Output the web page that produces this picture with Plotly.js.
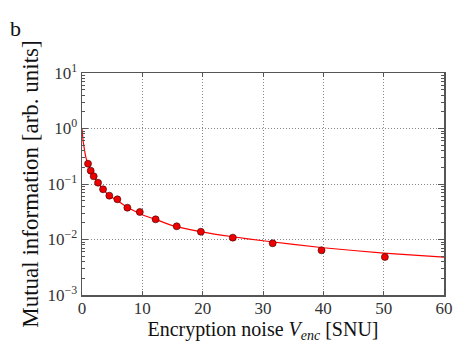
<!DOCTYPE html>
<html>
<head>
<meta charset="utf-8">
<script src="https://cdn.plot.ly/plotly-3.0.1.min.js"></script>
<style>
	body { margin: 0; padding: 0; background: #fff; }
	#chart { width: 463px; height: 349px; }
</style>
</head>
<body>
<div id="chart"></div>
<script>
// measured points
var noiseX = [1.0, 1.44, 1.94, 2.66, 3.49, 4.53, 5.86, 7.52, 9.58, 12.2, 15.7, 19.7, 25.0, 31.6, 39.7, 50.2];
var infoY = [0.232, 0.174, 0.138, 0.1055, 0.0803, 0.0616, 0.053, 0.0374, 0.0313, 0.0231, 0.0173, 0.0138, 0.0108, 0.00855, 0.00639, 0.00484];

// fitted curve
var fitX = [0, 0.1, 0.2, 0.33, 0.5, 0.72, 1.0, 1.5, 2, 2.7, 3.5, 4.5, 6, 7.5, 10, 12.2, 15, 20, 25, 30, 40, 50, 60];
var fitY = [1.0, 0.75, 0.58, 0.47, 0.36, 0.28, 0.23, 0.17, 0.133, 0.104, 0.08, 0.062, 0.049, 0.038, 0.028, 0.023, 0.0178, 0.0136, 0.0112, 0.0095, 0.0071, 0.0057, 0.0048];

var xTicks = [0, 10, 20, 30, 40, 50, 60];
var yTicks = [0.001, 0.01, 0.1, 1, 10];
var yTickText = ['10<sup>\u22123</sup>', '10<sup>\u22122</sup>', '10<sup>\u22121</sup>', '10<sup>0</sup>', '10<sup>1</sup>'];
var yMinorTicks = [];
[0.001, 0.01, 0.1, 1].forEach(function(d){
	for (var k = 2; k <= 9; k++) yMinorTicks.push(d * k);
});

function main(){
	var font = 'Liberation Serif, DejaVu Serif, serif';

	var fit = {
		x: fitX,
		y: fitY,
		type: 'scatter',
		mode: 'lines',
		line: {color: '#ff0000', width: 1.2, shape: 'spline', smoothing: 0.4},
		hoverinfo: 'skip'
	};

	var points = {
		x: noiseX,
		y: infoY,
		type: 'scatter',
		mode: 'markers',
		marker: {
			color: '#ee0000',
			size: 7,
			line: {color: '#330000', width: 0.6}
		}
	};

	var layout = {
		width: 463,
		height: 349,
		margin: {l: 82, r: 19, t: 73, b: 54},
		paper_bgcolor: '#fff',
		plot_bgcolor: '#fff',
		showlegend: false,
		font: {family: font, size: 16, color: '#222'},
		xaxis: {
			range: [0, 60],
			tickvals: xTicks,
			ticks: 'inside',
			ticklen: 4,
			tickcolor: '#555',
			mirror: 'ticks',
			showline: true,
			linecolor: '#555',
			linewidth: 1.5,
			showgrid: true,
			gridcolor: '#888',
			gridwidth: 1,
			griddash: '1px,2px',
			zeroline: false,
			ticklabelstandoff: -3,
			tickfont: {family: font, size: 17, color: '#333'},
			title: {
				text: 'Encryption noise <i>V</i><sub><i>enc</i></sub> [SNU]',
				font: {family: font, size: 20, color: '#111'},
				standoff: 0
			}
		},
		yaxis: {
			type: 'log',
			range: [-3, 1],
			tickvals: yTicks,
			ticktext: yTickText,
			ticks: 'inside',
			ticklen: 6,
			tickcolor: '#555',
			mirror: 'ticks',
			showline: true,
			linecolor: '#555',
			linewidth: 1.5,
			showgrid: true,
			gridcolor: '#888',
			gridwidth: 1,
			griddash: '1px,2px',
			zeroline: false,
			minor: {tickmode: 'array', tickvals: yMinorTicks, ticks: 'inside', ticklen: 3, tickcolor: '#555', showgrid: false},
			tickfont: {family: font, size: 17, color: '#333'},
			title: {
				text: 'Mutual information [arb. units]',
				font: {family: font, size: 23, color: '#111'},
				standoff: 2
			}
		},
		annotations: [{
			text: 'b',
			xref: 'paper', yref: 'paper',
			x: -0.185, y: 1.2,
			xanchor: 'center', yanchor: 'middle',
			showarrow: false,
			font: {family: font, size: 22, color: '#111'}
		}]
	};

	Plotly.newPlot('chart', [fit, points], layout, {displayModeBar: false, staticPlot: true});
}
main();
</script>
</body>
</html>
